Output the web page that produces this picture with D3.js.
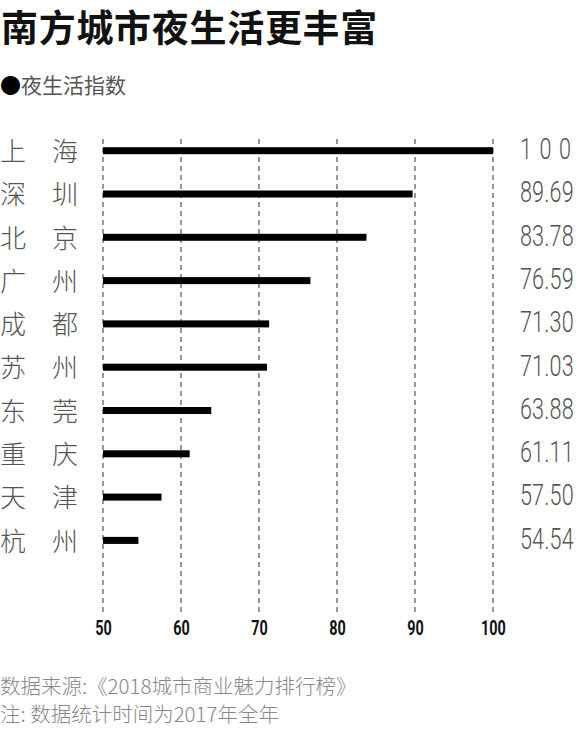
<!DOCTYPE html>
<html>
<head>
<meta charset="utf-8">
<script src="https://cdn.jsdelivr.net/npm/d3@7/dist/d3.min.js"></script>
<style>
  html, body { margin: 0; padding: 0; background: #fff; }
  svg { display: block; }
</style>
</head>
<body>
<script>
const title = "南方城市夜生活更丰富";
const legendLabel = "夜生活指数";
const cities = ["上海", "深圳", "北京", "广州", "成都", "苏州", "东莞", "重庆", "天津", "杭州"];
const values = [100, 89.69, 83.78, 76.59, 71.30, 71.03, 63.88, 61.11, 57.50, 54.54];
const valueLabels = ["1 0 0", "89.69", "83.78", "76.59", "71.30", "71.03", "63.88", "61.11", "57.50", "54.54"];
const xTicks = [50, 60, 70, 80, 90, 100];
const footnotes = ["数据来源:《2018城市商业魅力排行榜》", "注: 数据统计时间为2017年全年"];

const W = 579, H = 735;
const CJK = "'Noto Sans CJK SC', 'Noto Sans', sans-serif";
const NUM = "Roboto, 'Liberation Sans', sans-serif";

const svg = d3.select("body").append("svg")
  .attr("width", W).attr("height", H)
  .attr("viewBox", `0 0 ${W} ${H}`);

// Title
svg.append("text")
  .attr("x", 1).attr("y", 42)
  .attr("font-family", CJK).attr("font-weight", 700)
  .attr("font-size", 37).attr("letter-spacing", 0.7)
  .attr("fill", "#111")
  .text(title);

// Legend
svg.append("text")
  .attr("x", 0).attr("y", 92.5)
  .attr("font-family", CJK).attr("font-size", 21)
  .attr("fill", "#555")
  .call(t => {
    t.append("tspan").attr("fill", "#000").text("●");
    t.append("tspan").text(legendLabel);
  });

// Scales
const x = d3.scaleLinear().domain([50, 100]).range([103, 493]);
const y = d3.scalePoint().domain(cities).range([150.7, 540.4]);

// Grid lines
svg.append("g").selectAll("line")
  .data(xTicks).join("line")
  .attr("x1", d => x(d)).attr("x2", d => x(d))
  .attr("y1", 139).attr("y2", 612)
  .attr("stroke", "#444").attr("stroke-width", 1.1)
  .attr("stroke-dasharray", "5,4");

// Axis tick labels (via d3 axis)
const axis = d3.axisBottom(x).tickValues(xTicks).tickSize(0).tickPadding(0);
const gAxis = svg.append("g").attr("transform", "translate(0,635)").call(axis);
gAxis.select(".domain").remove();
gAxis.selectAll(".tick text")
  .attr("y", 0).attr("dy", null)
  .attr("font-family", NUM).attr("font-weight", 700)
  .attr("font-size", 20).attr("fill", "#111")
  .attr("transform", "scale(0.72,1)");

// Bars
svg.append("g").selectAll("rect")
  .data(values).join("rect")
  .attr("x", x(50))
  .attr("y", (d, i) => y(cities[i]) - 3.5)
  .attr("width", d => x(d) - x(50))
  .attr("height", 7)
  .attr("fill", "#000");

// City labels (two characters spread apart)
const cityG = svg.append("g")
  .attr("font-family", CJK).attr("font-weight", 300)
  .attr("font-size", 26).attr("fill", "#555");
cities.forEach(c => {
  const cy = y(c) + 0.4 + 0.38 * 26;
  cityG.append("text").attr("x", 0).attr("y", cy).text(c[0]);
  cityG.append("text").attr("x", 52).attr("y", cy).text(c[1]);
});

// Value labels (condensed by horizontal scaling)
const sx = 0.72;
svg.append("g").selectAll("text")
  .data(valueLabels).join("text")
  .attr("transform", (d, i) => `translate(520,${y(cities[i]) + 8.3}) scale(${sx},1)`)
  .attr("x", 0).attr("y", 0)
  .attr("font-family", NUM).attr("font-weight", 300)
  .attr("font-size", 30).attr("fill", "#555")
  .attr("letter-spacing", d => d.includes(" ") ? 1.6 : 0.2)
  .text(d => d);

// Footnotes
svg.append("g").selectAll("text")
  .data(footnotes).join("text")
  .attr("x", 0)
  .attr("y", (d, i) => 694 + i * 28)
  .attr("font-family", CJK).attr("font-weight", 300)
  .attr("font-size", 20.5).attr("fill", "#888")
  .text(d => d);
</script>
</body>
</html>
